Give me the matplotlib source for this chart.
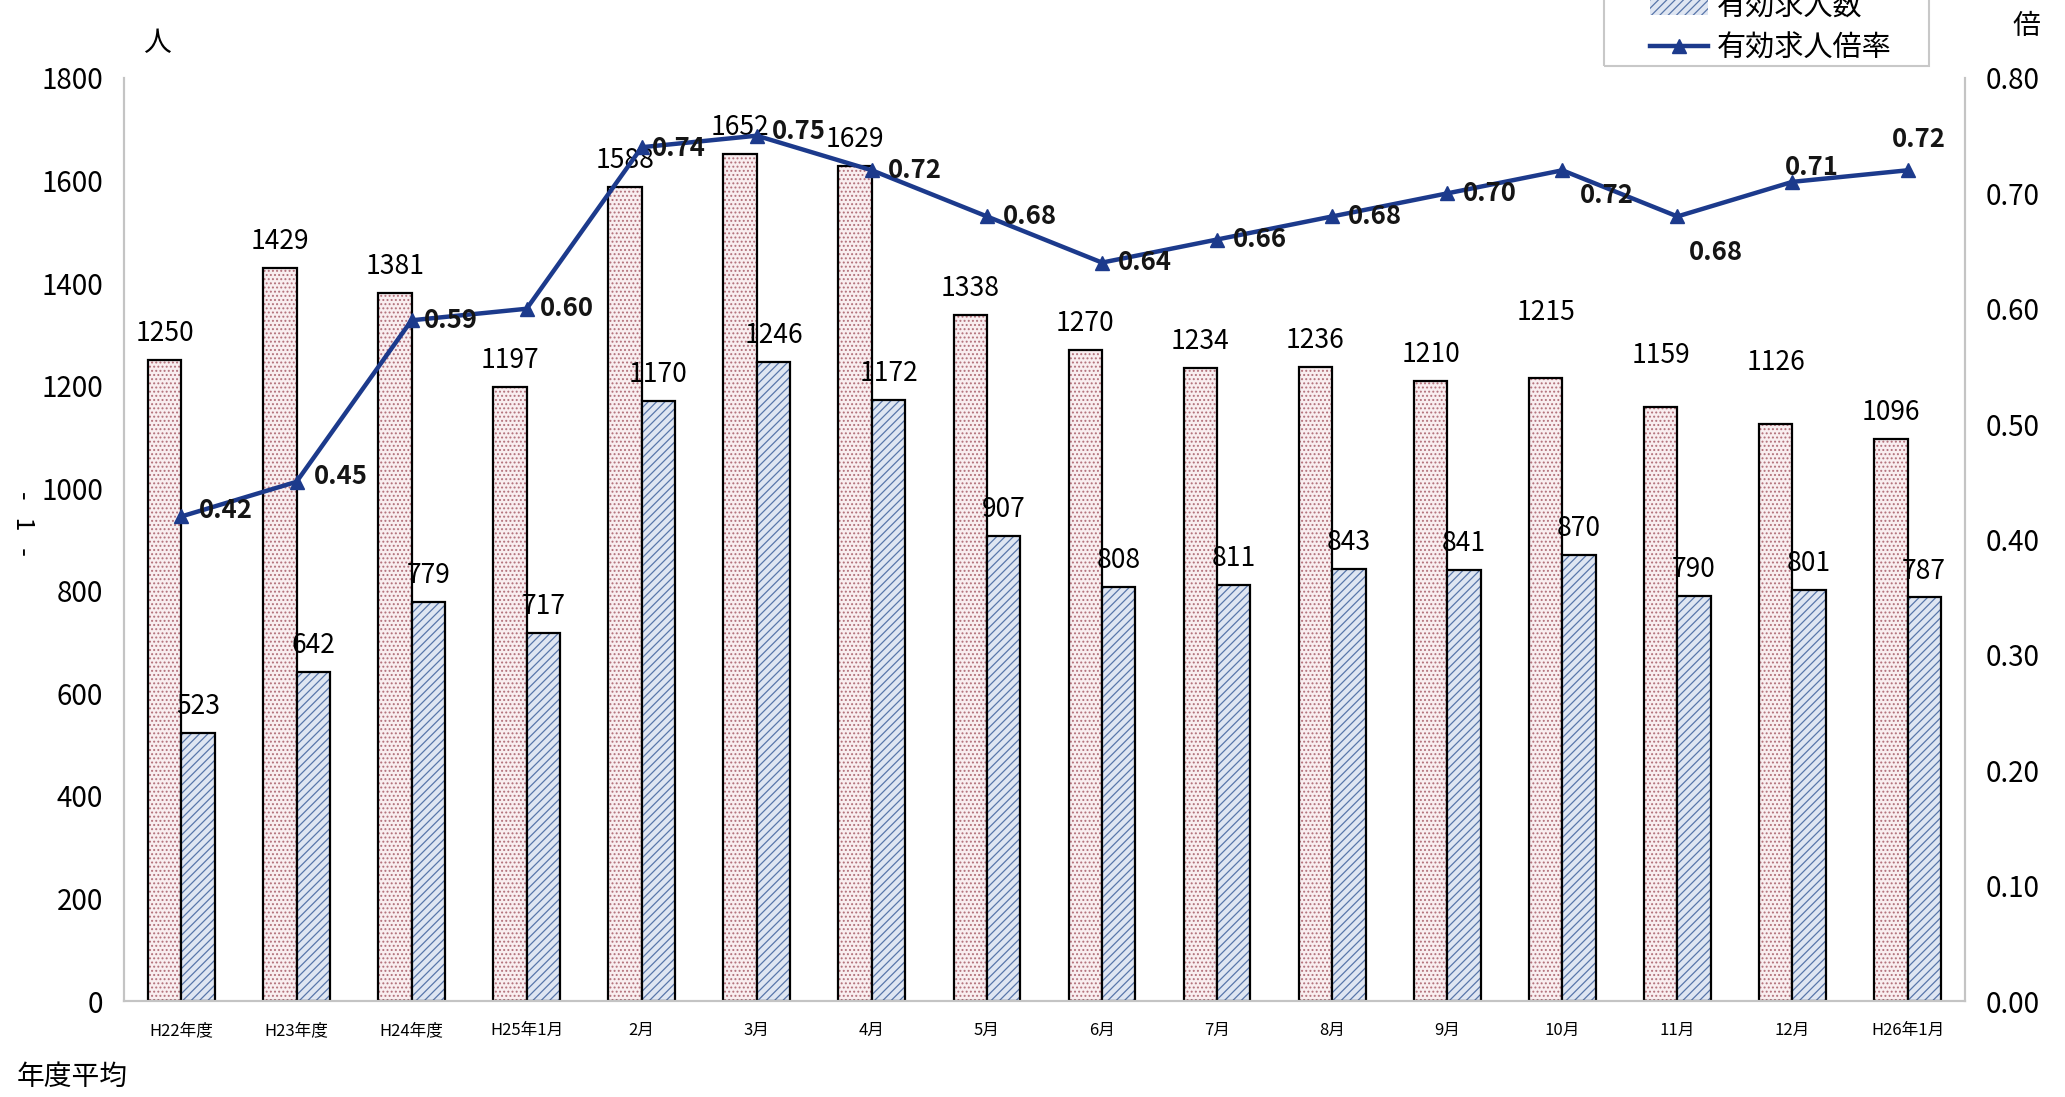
import numpy as np
import matplotlib
matplotlib.use('Agg')
import matplotlib.pyplot as plt
from matplotlib.patches import Rectangle

plt.rcParams['font.family'] = ['Noto Sans CJK JP', 'DejaVu Sans']
plt.rcParams['hatch.linewidth'] = 0.9

# data
months = ['H22年度', 'H23年度', 'H24年度', 'H25年1月', '2月', '3月', '4月', '5月',
          '6月', '7月', '8月', '9月', '10月', '11月', '12月', 'H26年1月']
seekers = [1250, 1429, 1381, 1197, 1588, 1652, 1629, 1338,
           1270, 1234, 1236, 1210, 1215, 1159, 1126, 1096]      # 有効求職者数
openings = [523, 642, 779, 717, 1170, 1246, 1172, 907,
            808, 811, 843, 841, 870, 790, 801, 787]              # 有効求人数
ratio = [0.42, 0.45, 0.59, 0.60, 0.74, 0.75, 0.72, 0.68,
         0.64, 0.66, 0.68, 0.70, 0.72, 0.68, 0.71, 0.72]         # 有効求人倍率

# label placement tweaks (points), like the original layout
ratio_offsets = [(32, 4), (32, 4), (28, 0), (29, 0), (27, -1), (30, 3), (31, 0), (31, 0),
                 (31, 0), (31, 0), (31, 0), (31, 0), (32, -18), (28, -26), (14, 10), (8, 22)]
seeker_offsets = [19] * 12 + [47, 37, 44, 19]

fig = plt.figure(figsize=(20.65, 10.97), dpi=100)
ax = fig.add_axes([0.0600, 0.0875, 0.8916, 0.8414])
ax2 = ax.twinx()

x = np.arange(len(months))
w = 0.29
pink_face, pink_dots = '#f9eef0', '#b2707a'
blue_face, blue_lines = '#dfe6f2', '#5876aa'

# hatch layer, then black outline on top
ax.bar(x - w / 2, seekers, w, color=pink_face, hatch='....', edgecolor=pink_dots, linewidth=0)
ax.bar(x - w / 2, seekers, w, fill=False, edgecolor='black', linewidth=1.6)
ax.bar(x + w / 2, openings, w, color=blue_face, hatch='////', edgecolor=blue_lines, linewidth=0,
       label='有効求人数')
ax.bar(x + w / 2, openings, w, fill=False, edgecolor='black', linewidth=1.6)

for i in range(len(months)):
    ax.annotate(str(seekers[i]), (x[i] - w / 2, seekers[i]), xytext=(0, seeker_offsets[i]),
                textcoords='offset points', ha='center', va='center', fontsize=19)
    ax.annotate(str(openings[i]), (x[i] + w / 2, openings[i]), xytext=(0, 19),
                textcoords='offset points', ha='center', va='center', fontsize=19)

line, = ax2.plot(x, ratio, color='#1c3a8c', linewidth=3.2, marker='^', markersize=10,
                 label='有効求人倍率')
for i in range(len(months)):
    ax2.annotate(f'{ratio[i]:.2f}', (x[i], ratio[i]), xytext=ratio_offsets[i],
                 textcoords='offset points', ha='center', va='center', fontsize=18.5,
                 fontweight='bold', color='#151515')

ax.set_xlim(-0.5, len(months) - 0.5)
ax.set_ylim(0, 1800)
ax.set_yticks(np.arange(0, 1801, 200))
ax2.set_ylim(0, 0.8)
ax2.set_yticks(np.arange(0, 0.81, 0.1))
ax2.set_yticklabels([f'{v:.2f}' for v in np.arange(0, 0.81, 0.1)])
ax.set_xticks(x)
ax.set_xticklabels(months, fontsize=12)

ax.tick_params(axis='y', length=0, pad=15, labelsize=20)
ax.tick_params(axis='x', length=0, pad=15)
ax2.tick_params(axis='y', length=0, pad=15, labelsize=20)

for a in (ax, ax2):
    a.spines['top'].set_visible(False)
    for s in ('left', 'right', 'bottom'):
        a.spines[s].set_color('#c4c4c4')
        a.spines[s].set_linewidth(1.5)

# axis captions
fig.text(157 / 2065, 1 - 43 / 1097, '人', fontsize=20, ha='center', va='center')
fig.text(2026 / 2065, 1 - 26 / 1097, '倍', fontsize=20, ha='center', va='center')
fig.text(72 / 2065, 1 - 1077 / 1097, '年度平均', fontsize=20, ha='center', va='center')
fig.text(23 / 2065, 1 - 523 / 1097, '-   1   -', fontsize=18, rotation=-90,
         ha='center', va='center')

# legend, its top row runs off the page as in the scan
handles, labels = [], []
for a in (ax, ax2):
    h, l = a.get_legend_handles_labels()
    handles += h
    labels += l
fig.legend(handles, labels, loc='lower left', bbox_to_anchor=(1635 / 2065, 1 - 78 / 1097),
           frameon=False, fontsize=21, handlelength=2.0, handletextpad=0.3,
           labelspacing=0.38, borderpad=0, numpoints=1)
fig.patches.append(Rectangle((1604 / 2065, 1 - 66 / 1097), 325 / 2065, 0.2,
                             transform=fig.transFigure, fill=False,
                             edgecolor='#c8c8c8', linewidth=1.5))

fig.savefig('out.png', dpi=100, facecolor='white')
